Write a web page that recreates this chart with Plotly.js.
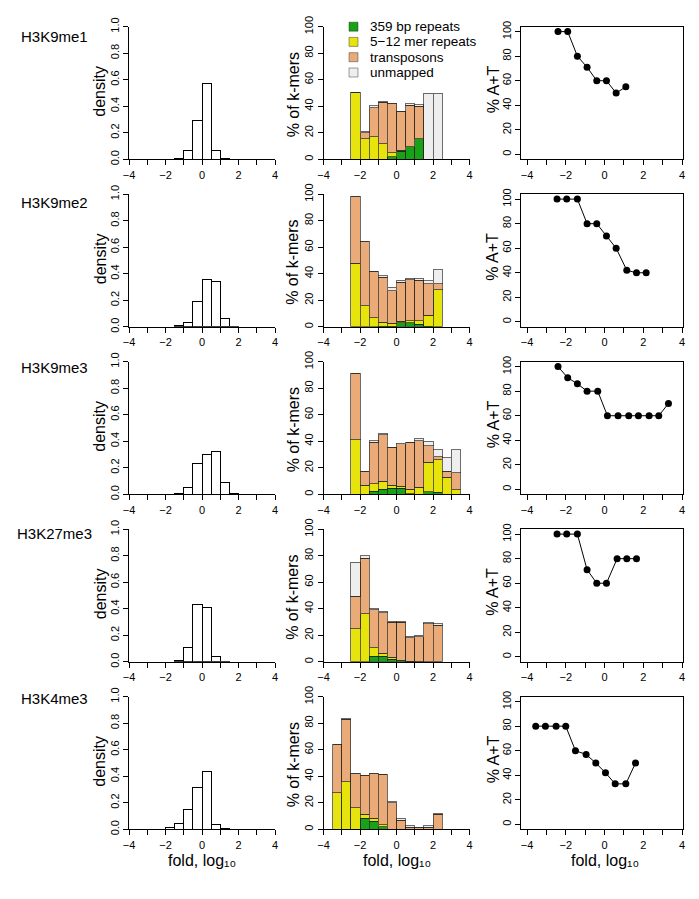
<!DOCTYPE html>
<html>
<head>
<meta charset="utf-8">
<script src="https://cdn.plot.ly/plotly-3.0.1.min.js"></script>
<style>
  html, body { margin: 0; padding: 0; background: #fff; }
  #chart { width: 699px; height: 899px; }
</style>
</head>
<body>
<div id="chart"></div>
<script>
// Histone marks, one per row
const marks = ['H3K9me1', 'H3K9me2', 'H3K9me3', 'H3K27me3', 'H3K4me3'];

// shared fold axis ticks (labelled every 2, minor tick every 1)
const foldTicks = [-4, -2, 0, 2, 4];
const foldTickText = ['\u22124', '\u22122', '0', '2', '4'];
const foldTitle = 'fold, log\u2081\u2080';
const densTicks = [0, 0.2, 0.4, 0.6, 0.8, 1.0];
const densTickText = ['0.0', '0.2', '0.4', '0.6', '0.8', '1.0'];
const pctTicks = [0, 20, 40, 60, 80, 100];

// left column: density of fold change (bin centres, heights)
const densX1 = [-1.25, -0.75, -0.25, 0.25, 0.75, 1.25];
const densY1 = [0.008, 0.07, 0.296, 0.568, 0.063, 0.003];
const densX2 = [-1.25, -0.75, -0.25, 0.25, 0.75, 1.25, 1.75];
const densY2 = [0.008, 0.033, 0.19, 0.36, 0.338, 0.064, 0.003];
const densX3 = [-1.25, -0.75, -0.25, 0.25, 0.75, 1.25, 1.75];
const densY3 = [0.008, 0.049, 0.229, 0.30, 0.322, 0.09, 0.008];
const densX4 = [-1.25, -0.75, -0.25, 0.25, 0.75, 1.25];
const densY4 = [0.01, 0.11, 0.432, 0.409, 0.041, 0.005];
const densX5 = [-1.75, -1.25, -0.75, -0.25, 0.25, 0.75, 1.25];
const densY5 = [0.01, 0.044, 0.148, 0.319, 0.434, 0.039, 0.005];

// middle column: % of k-mers per class
const kmerNames = ['359 bp repeats', '5\u221212 mer repeats', 'transposons', 'unmapped'];
const kmerColors = ['#17a217', '#e6e40c', '#ebab79', '#eeeeee'];

const kmerX1 = [-2.25, -1.75, -1.25, -0.75, -0.25, 0.25, 0.75, 1.25, 1.75, 2.25];
const green1 = [0, 0, 0, 0, 1.75, 6.25, 9.5, 15.5, 0, 0];
const yellow1 = [50.5, 15.5, 17, 11.75, 3.25, 0.5, 0, 0, 0, 0];
const orange1 = [0, 4.5, 21.75, 31.25, 36.75, 29.5, 31.25, 24.5, 0, 0];
const grey1 = [0, 1.25, 1.75, 0.75, 0, 0, 1, 1.25, 50, 50];

const kmerX2 = [-2.25, -1.75, -1.25, -0.75, -0.25, 0.25, 0.75, 1.25, 1.75, 2.25];
const green2 = [0, 0, 0, 0.5, 0.5, 3, 3, 1.75, 0.5, 0];
const yellow2 = [48, 16, 6.75, 3, 2, 1.25, 1.75, 3, 8.25, 28];
const orange2 = [50, 48.25, 35, 33.75, 24.75, 29.5, 30.75, 30.25, 23.75, 4.5];
const grey2 = [0, 0, 0, 1.25, 2.5, 1.25, 1.25, 1.75, 2.25, 10.5];

const kmerX3 = [-2.25, -1.75, -1.25, -0.75, -0.25, 0.25, 0.75, 1.25, 1.75, 2.25, 2.75, 3.25];
const green3 = [0, 0, 2.25, 3.75, 4.75, 4.75, 0.5, 0, 1.75, 1.5, 0, 0];
const yellow3 = [41, 6.75, 5.75, 6, 2, 1.25, 3.25, 5.5, 22.5, 24.5, 13, 3.5];
const orange3 = [50.25, 10.75, 31.25, 35, 28.75, 32, 35.5, 35, 12.5, 2.5, 4.5, 12.75];
const grey3 = [0, 0, 1.25, 0.75, 0, 0.5, 0, 1.25, 3.25, 5.25, 10, 17.25];

const kmerX4 = [-2.25, -1.75, -1.25, -0.75, -0.25, 0.25, 0.75, 1.25, 1.75, 2.25];
const green4 = [0, 0, 4.25, 4.25, 2, 0.75, 0.25, 0, 0, 0];
const yellow4 = [24.75, 36.25, 6.25, 2.25, 1.25, 0.5, 0.25, 0.5, 0, 0];
const orange4 = [24.75, 42, 28.75, 30.5, 26.75, 28.75, 17.75, 18.25, 28.75, 27.5];
const grey4 = [25.5, 1.75, 0.75, 1.25, 0.5, 0.5, 1, 1.25, 0.75, 1.25];

const kmerX5 = [-3.25, -2.75, -2.25, -1.75, -1.25, -0.75, -0.25, 0.25, 0.75, 1.25, 1.75, 2.25];
const green5 = [0, 0, 0, 8.25, 6.25, 2, 0, 0, 0, 0, 0, 0];
const yellow5 = [27.75, 36, 16.25, 3.25, 2, 1.25, 0, 0, 0, 0, 0, 0];
const orange5 = [36.25, 47, 25.75, 29.25, 33.75, 38.25, 20, 7, 1.5, 1.5, 1.5, 11.25];
const grey5 = [0, 0.75, 0, 0, 0, 0, 0.75, 1.25, 1.25, 0, 1, 0.75];

// right column: % A+T
const atX1 = [-2.4, -1.9, -1.4, -0.9, -0.4, 0.1, 0.6, 1.1];
const atY1 = [100, 100, 80, 71, 60, 60, 50, 55];
const atX2 = [-2.45, -1.95, -1.4, -0.9, -0.4, 0.1, 0.6, 1.15, 1.65, 2.15];
const atY2 = [100, 100, 100, 80, 80, 70, 60, 42, 40, 40];
const atX3 = [-2.4, -1.9, -1.4, -0.9, -0.35, 0.15, 0.7, 1.25, 1.75, 2.3, 2.8, 3.3];
const atY3 = [100, 91, 86, 80, 80, 60, 60, 60, 60, 60, 60, 70];
const atX4 = [-2.45, -1.95, -1.4, -0.9, -0.4, 0.1, 0.65, 1.15, 1.65];
const atY4 = [100, 100, 100, 71, 60, 60, 80, 80, 80];
const atX5 = [-3.55, -3.05, -2.5, -2, -1.5, -0.95, -0.45, 0.05, 0.55, 1.1, 1.6];
const atY5 = [80, 80, 80, 80, 60, 57, 50, 42, 33, 33, 50];

const densData = [[densX1, densY1], [densX2, densY2], [densX3, densY3], [densX4, densY4], [densX5, densY5]];
const kmerData = [
    [kmerX1, [green1, yellow1, orange1, grey1]],
    [kmerX2, [green2, yellow2, orange2, grey2]],
    [kmerX3, [green3, yellow3, orange3, grey3]],
    [kmerX4, [green4, yellow4, orange4, grey4]],
    [kmerX5, [green5, yellow5, orange5, grey5]]
];
const atData = [[atX1, atY1], [atX2, atY2], [atX3, atY3], [atX4, atY4], [atX5, atY5]];

// page geometry (pixels)
const W = 699, H = 899;
const rowBase = 159.3, rowStep = 167.5, plotHeight = 132.6;
const labelBase = 36.5, labelStep = 165.6;
const colX = [[129, 275], [323.5, 469.5], [521, 683]];
const FONT = 'Liberation Sans, Arial, sans-serif';

function px(x) { return x / W; }
function py(y) { return 1 - y / H; }

function axisId(r, c) {
    const n = r * 3 + c + 1;
    return n === 1 ? '' : String(n);
}

/**
 * Common axis styling, R base graphics look
 */
function baseAxis(extra) {
    return Object.assign({
        showgrid: false,
        zeroline: false,
        showline: true,
        linecolor: '#000',
        linewidth: 1,
        ticks: 'outside',
        ticklen: 5,
        tickwidth: 1,
        tickcolor: '#000',
        tickfont: { family: FONT, size: 11, color: '#000' },
        fixedrange: true
    }, extra);
}

const traces = [];
const layout = {
    width: W,
    height: H,
    margin: { l: 0, r: 0, t: 0, b: 0 },
    paper_bgcolor: '#fff',
    plot_bgcolor: 'rgba(0,0,0,0)',
    barmode: 'stack',
    bargap: 0,
    showlegend: false,
    font: { family: FONT, color: '#000' },
    annotations: [],
    shapes: []
};

marks.forEach((mark, r) => {
    const bottom = rowBase + rowStep * r;
    const top = bottom - plotHeight;
    const yDomain = [py(bottom), py(top)];

    for (let c = 0; c < 3; c++) {
        const id = axisId(r, c);
        const xa = {
            domain: [px(colX[c][0]), px(colX[c][1])],
            anchor: 'y' + id,
            tickmode: 'array',
            tickvals: foldTicks,
            ticktext: foldTickText,
            minor: { tick0: -4, dtick: 1, ticks: 'outside', ticklen: 5, tickwidth: 1, tickcolor: '#000', showgrid: false },
            range: c === 2 ? [-4.31, 4.05] : [-4, 4]
        };
        const ya = { domain: yDomain, anchor: 'x' + id, tickangle: -90, tickmode: 'array' };
        if (c === 0) {
            Object.assign(ya, { range: [0, 1], tickvals: densTicks, ticktext: densTickText });
        } else if (c === 1) {
            Object.assign(ya, { range: [0, 100], tickvals: pctTicks });
        } else {
            Object.assign(ya, { range: [-4, 104], tickvals: pctTicks, mirror: true });
            xa.mirror = true;
        }
        layout['xaxis' + id] = baseAxis(xa);
        layout['yaxis' + id] = baseAxis(ya);
    }

    // density histogram
    const d = densData[r];
    traces.push({
        type: 'bar', x: d[0], y: d[1], width: 0.5,
        xaxis: 'x' + axisId(r, 0), yaxis: 'y' + axisId(r, 0),
        marker: { color: '#fff', line: { color: '#000', width: 1 } },
        hoverinfo: 'skip'
    });

    // stacked k-mer classes
    const k = kmerData[r];
    k[1].forEach((vals, i) => {
        traces.push({
            type: 'bar', x: k[0], y: vals, width: 0.5, name: kmerNames[i],
            xaxis: 'x' + axisId(r, 1), yaxis: 'y' + axisId(r, 1),
            marker: { color: kmerColors[i], line: { color: 'rgba(30,30,30,0.65)', width: 1 } },
            hoverinfo: 'skip'
        });
    });

    // A+T content
    const a = atData[r];
    traces.push({
        type: 'scatter', mode: 'lines+markers', x: a[0], y: a[1],
        xaxis: 'x' + axisId(r, 2), yaxis: 'y' + axisId(r, 2),
        line: { color: '#000', width: 1 },
        marker: { color: '#000', size: 7 },
        hoverinfo: 'skip'
    });

    // row label and axis titles
    layout.annotations.push(
        { text: mark, x: px(54), y: py(labelBase + labelStep * r), xref: 'paper', yref: 'paper',
          showarrow: false, xanchor: 'center', yanchor: 'middle', font: { size: 15 } },
        { text: 'density', x: px(100), y: py(bottom - 67.6), xref: 'paper', yref: 'paper',
          showarrow: false, textangle: -90, xanchor: 'center', yanchor: 'middle', font: { size: 16 } },
        { text: '% of k-mers', x: px(293), y: py(bottom - 64), xref: 'paper', yref: 'paper',
          showarrow: false, textangle: -90, xanchor: 'center', yanchor: 'middle', font: { size: 16 } },
        { text: '% A+T', x: px(493), y: py(bottom - 70), xref: 'paper', yref: 'paper',
          showarrow: false, textangle: -90, xanchor: 'center', yanchor: 'middle', font: { size: 16 } }
    );
});

// x titles under the bottom row
[202, 396.5, 604.5].forEach(cx => {
    layout.annotations.push({
        text: foldTitle, x: px(cx), y: py(860), xref: 'paper', yref: 'paper',
        showarrow: false, xanchor: 'center', yanchor: 'middle', font: { size: 16 }
    });
});

// legend for the k-mer classes, top of the middle column
const legendRows = [26.7, 41.9, 57.2, 72.5];
kmerNames.forEach((name, i) => {
    const cy = legendRows[i];
    layout.shapes.push({
        type: 'rect', xref: 'paper', yref: 'paper',
        x0: px(349), x1: px(358), y0: py(cy + 4.5), y1: py(cy - 4.5),
        fillcolor: kmerColors[i], line: { color: 'rgba(30,30,30,0.6)', width: 0.7 }
    });
    layout.annotations.push({
        text: name, x: px(368), y: py(cy), xref: 'paper', yref: 'paper',
        showarrow: false, xanchor: 'left', yanchor: 'middle', font: { size: 13.5 }
    });
});

Plotly.newPlot('chart', traces, layout, { displayModeBar: false, staticPlot: true });
</script>
</body>
</html>
